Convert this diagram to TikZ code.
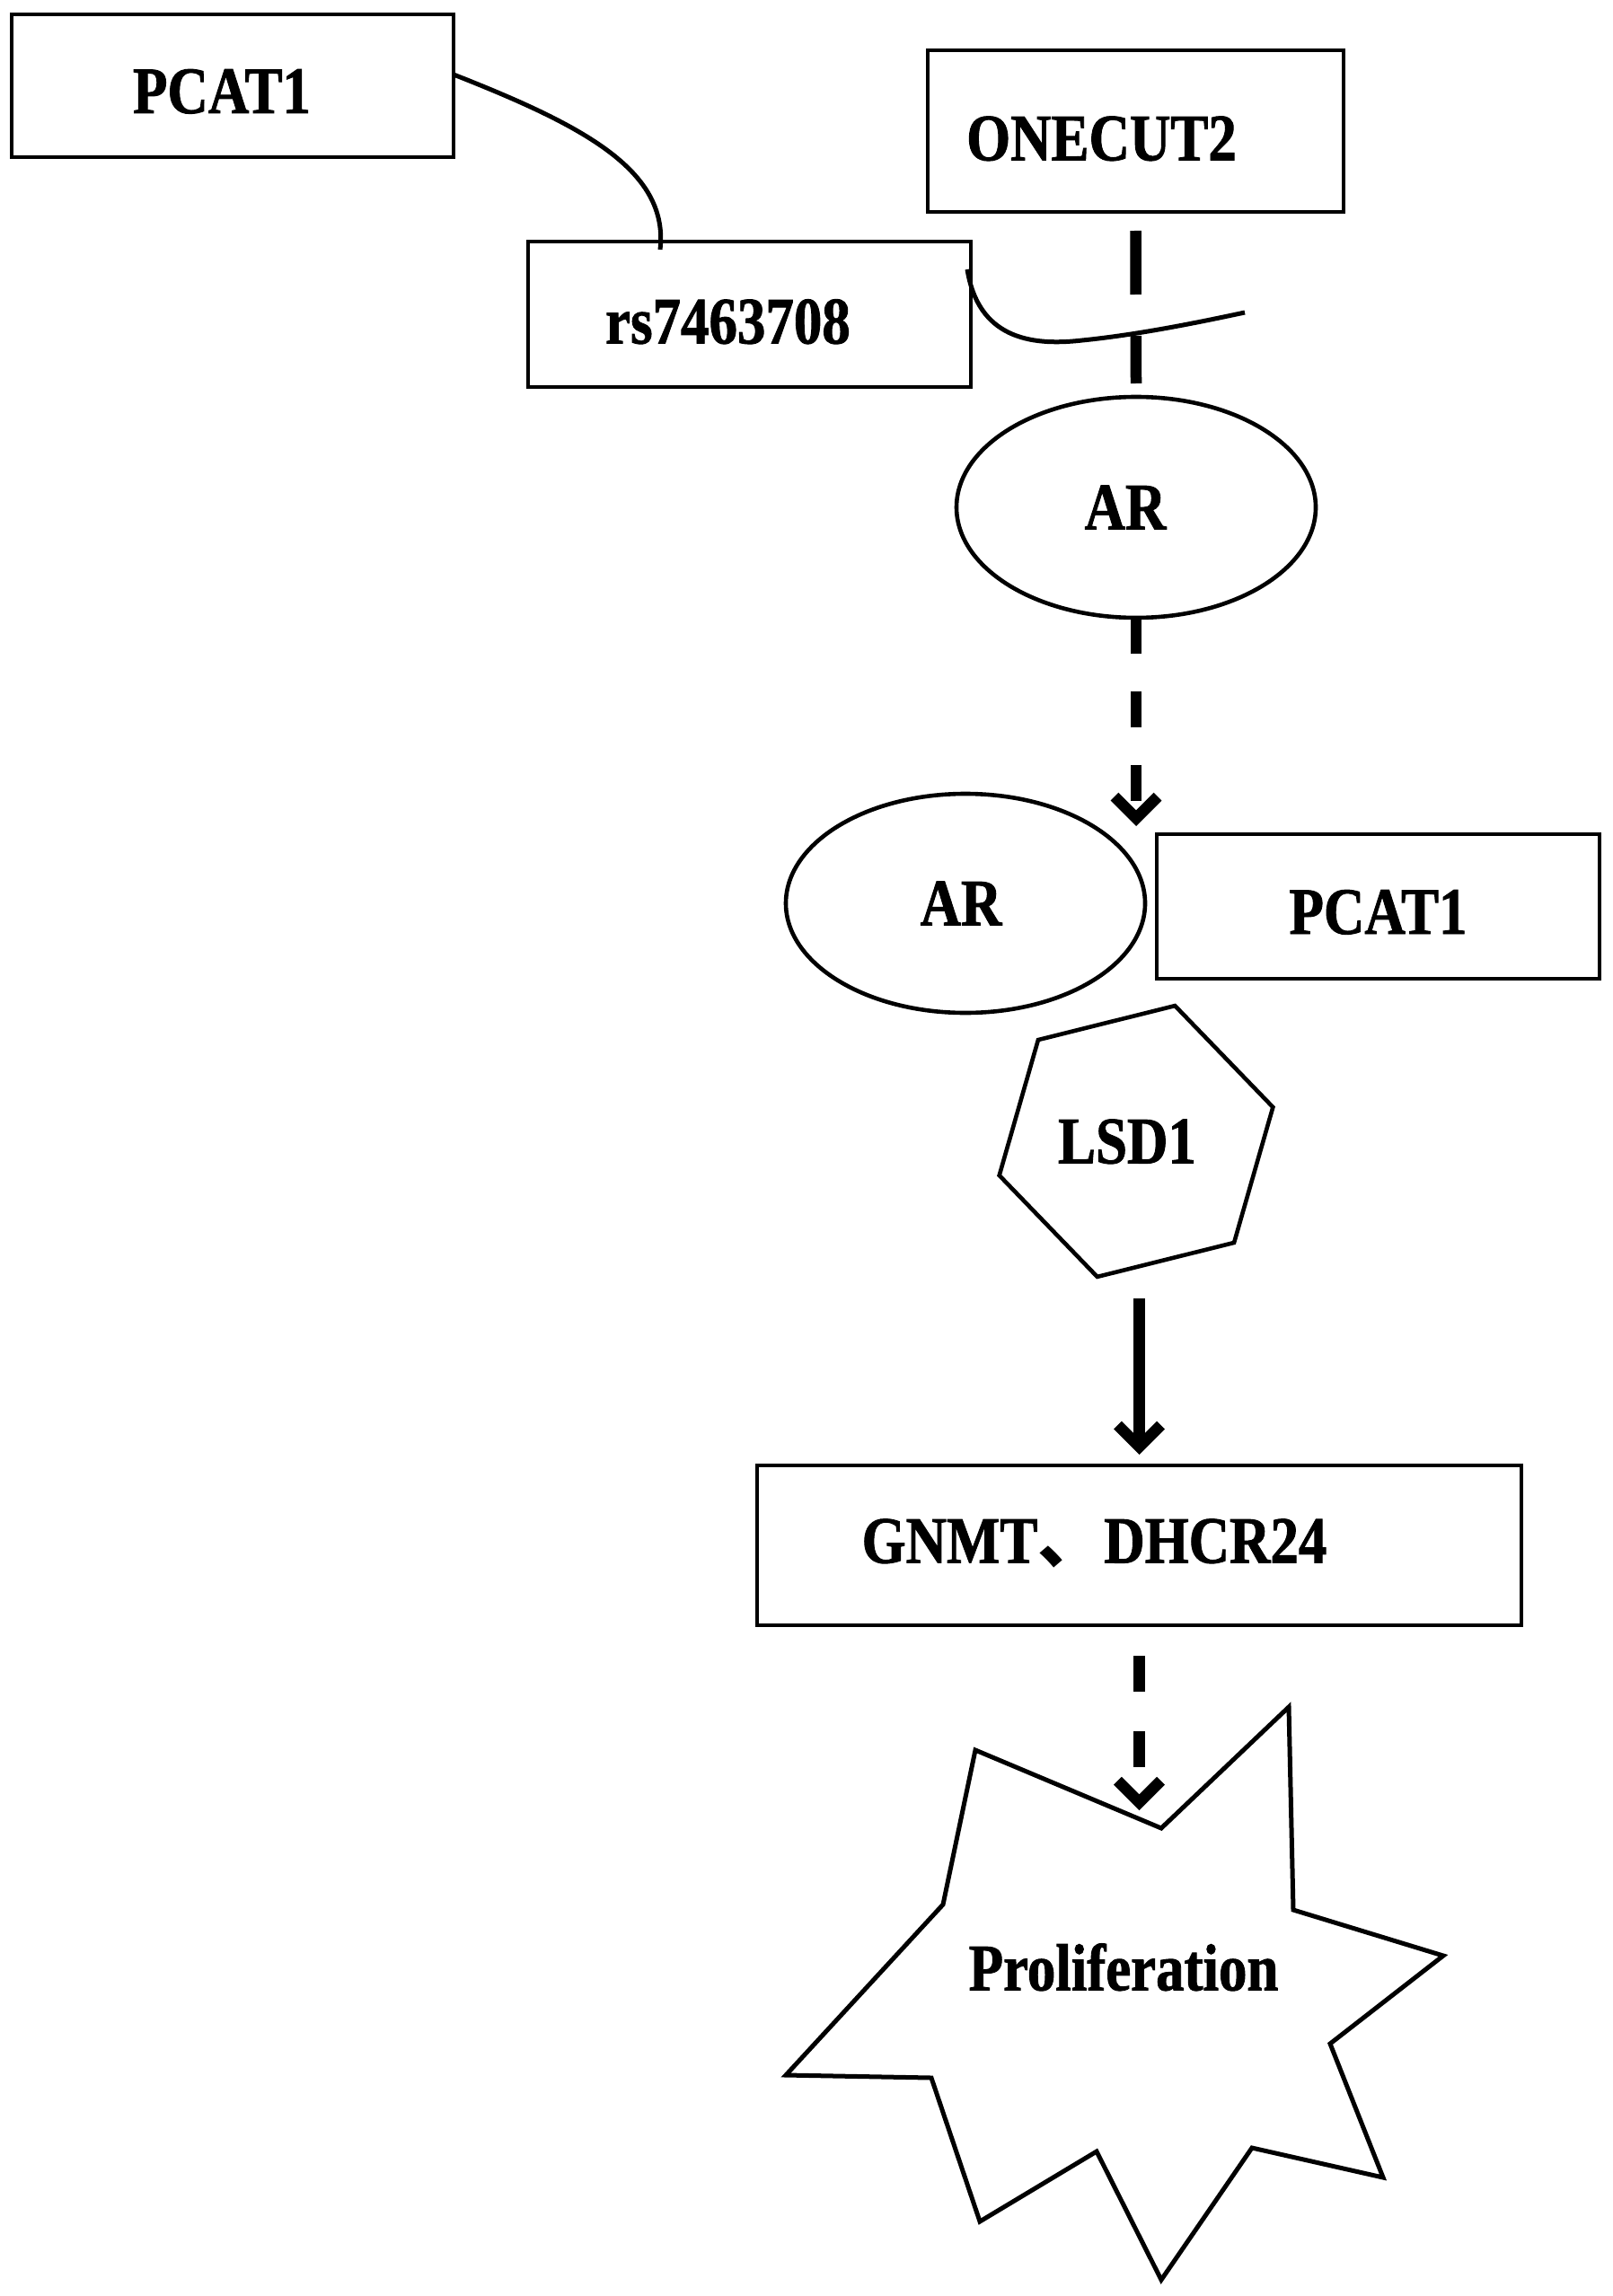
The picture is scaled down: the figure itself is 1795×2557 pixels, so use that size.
\documentclass[tikz,border=0pt]{standalone}
\usepackage{fontspec}
\newfontfamily\lab{Liberation Serif}[FakeStretch=0.85, BoldFeatures={FakeBold=1.2}]
\newfontfamily\cjk{Noto Sans CJK SC}
\usetikzlibrary{shapes.geometric, arrows.meta, calc}
\tikzset{
  lbl/.style={font=\lab\bfseries\fontsize{37}{40}\selectfont, text height=24.5pt, text depth=0pt, inner sep=0pt, outer sep=0pt},
  boxnode/.style={lbl, draw, line width=2.3pt, rectangle},
  ellnode/.style={lbl, draw, line width=2.3pt, ellipse},
  hexnode/.style={lbl, draw, line width=2.3pt, regular polygon, regular polygon sides=6},
  flow/.style={line width=6.25pt},
  link/.style={line width=2.5pt},
  tipv/.style={-{Straight Barb[length=12pt,width=24pt,line width=6.25pt]}},
}
\begin{document}
\begin{tikzpicture}[x=0.5pt, y=-0.5pt]
\fill[white] (0,0) rectangle (1795,2557);
\useasboundingbox (0,0) rectangle (1795,2557);

\node[boxnode, minimum width=246pt, minimum height=79.5pt] (pcatA) at (259,95.5) {\raisebox{-3pt}{PCAT1}\hspace*{12pt}};
\node[boxnode, minimum width=231.5pt, minimum height=90pt] (onecut) at (1264.5,146) {\raisebox{-4pt}{ONECUT2}\hspace*{38pt}};
\node[boxnode, minimum width=246.5pt, minimum height=81pt] (rs) at (834.5,350) {\raisebox{-4pt}{rs7463708}\hspace*{24pt}};
\node[ellnode, minimum width=200pt, minimum height=123pt] (arA) at (1265,565) {AR\hspace*{12pt}};
\node[ellnode, minimum width=200pt, minimum height=122pt] (arB) at (1075,1006) {AR\hspace*{5pt}};
\node[boxnode, minimum width=246.5pt, minimum height=80.5pt] (pcatB) at (1534.5,1009.5) {\raisebox{-3pt}{PCAT1}};
\node[hexnode, minimum size=157pt, shape border rotate=14] (lsd) at (1265,1271) {LSD1\hspace*{10pt}};
\node[boxnode, minimum width=425.5pt, minimum height=89pt] (gnmt) at (1268.5,1721) {\raisebox{2.5pt}{GNMT{\cjk 、}DHCR24}\hspace*{50pt}};

% curves
\draw[link] ($(pcatA.east)+(0,-12.5)$) .. controls +(145,57) and +(10,-88) .. ($(rs.north west)+(147,9)$);
\coordinate (c2mid) at (1205,379);
\coordinate (c2end) at (1386,348);
\draw[link] ($(rs.north east)+(-4,31)$) .. controls +(12,75) and +(-60,7) .. (c2mid) .. controls +(60,-6) and +(-56,12) .. (c2end);

% connectors
\draw[flow, dash pattern=on 35.5pt off 23pt] ($(onecut.south)+(0,21)$) -- ($(arA.north)+(0,-15)$);
\draw[flow, tipv, dash pattern=on 20pt off 21pt] (arA.south) -- ($(arA.south |- pcatB.north)+(0,-9)$);
\draw[flow, tipv] ($(gnmt.north)+(0,-186)$) -- ($(gnmt.north)+(0,-12)$);

% star
\coordinate (notch) at (1293,2036);
\draw[link, line join=miter] (1086,1949) -- (notch) -- (1435,1901) -- (1440,2127) -- (1607,2178) -- (1481,2276) -- (1540,2425) -- (1394,2392) -- (1293,2539) -- (1221,2396) -- (1091,2474) -- (1037,2314) -- (875,2311) -- (1050,2121) -- cycle;
\node[lbl] (prolif) at (1251,2192) {Proliferation};

\draw[flow, tipv, dash pattern=on 20pt off 22pt] ($(gnmt.south)+(0,34)$) -- ($(gnmt.south |- notch)+(0,-20)$);
\end{tikzpicture}
\end{document}
